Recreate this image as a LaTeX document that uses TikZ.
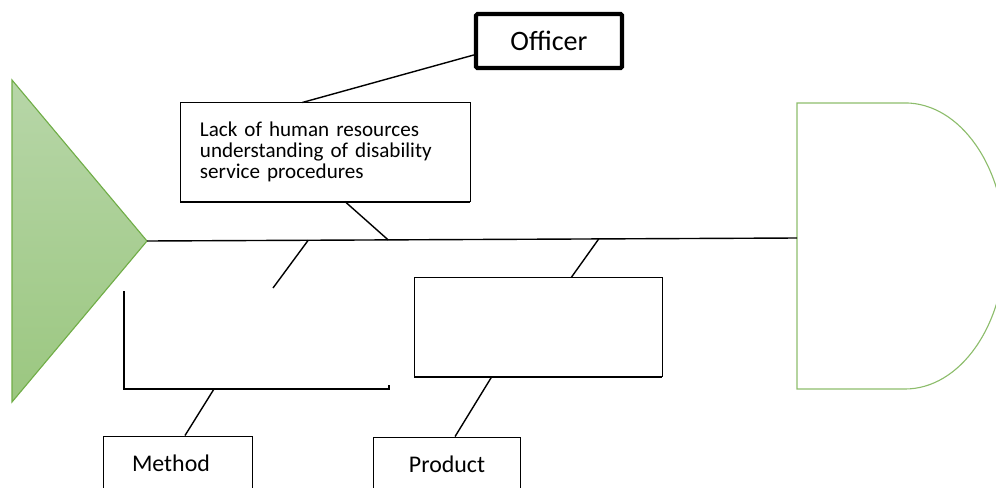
\documentclass[tikz,border=0pt]{standalone}
\usepackage{fontspec}
\setmainfont{Carlito}
\usetikzlibrary{calc,shadows}

\definecolor{fishgreen}{RGB}{112,173,71}
\definecolor{headtop}{RGB}{183,214,168}
\definecolor{headbottom}{RGB}{155,199,128}

\begin{document}
\begin{tikzpicture}[x=0.025cm, y=-0.025cm,
    causebox/.style={draw, fill=white, line width=0.7pt,
        copy shadow={shadow xshift=-0.6pt, shadow yshift=-1.3pt}},
    bone/.style={line width=1pt}]
    \useasboundingbox (0, 0) rectangle (996, 488);
    \clip (0, 0) rectangle (996, 488);

    \shade[top color=headtop, bottom color=headbottom, draw=fishgreen, line width=0.8pt]
        (12, 80) -- (147, 241) -- (12, 402) -- cycle;
    \coordinate (tip) at (147, 241);
    \draw[fishgreen!80, line width=0.8pt] (905, 103) -- (797, 103) -- (797, 389) -- (905, 389)
        arc[start angle=-90, end angle=90, x radius=2.5cm, y radius=3.575cm];
    \coordinate (tail) at (797, 238);

    \node[draw, line width=2.9pt, rounded corners=1pt, minimum width=3.65cm, minimum height=1.35cm,
        font=\fontsize{20}{24}\selectfont] (officer) at (549, 41) {Officer};
    \node[causebox, minimum width=7.225cm, minimum height=2.45cm, text width=6.275cm, inner xsep=0.475cm,
        align=left, font=\fontsize{15}{15}\selectfont] (staff) at (325.5, 152)
        {Lack of human resources\\understanding of disability\\service procedures};
    \node[causebox, minimum width=6.175cm, minimum height=2.45cm] (productcause) at (538.5, 327) {};
    \node[causebox, minimum width=3.7cm, minimum height=1.35cm,
        font=\fontsize{17}{17}\selectfont] (method) at (178, 463) {Method\hspace*{10pt}};
    \node[causebox, minimum width=3.65cm, minimum height=1.35cm,
        font=\fontsize{17}{17}\selectfont] (product) at (447, 464) {Product};

    \draw[bone] (124, 291) -- (124, 389) -- (389, 389) -- (389, 385);
    \coordinate (methodcause) at (214, 389);
    \coordinate (stub) at (273, 288);

    \draw[bone] (tip) -- (tail);
    \coordinate (s1) at ($(tip)!0.248!(tail)$);
    \coordinate (s2) at ($(tip)!0.371!(tail)$);
    \coordinate (s3) at ($(tip)!0.695!(tail)$);

    \draw[bone] ($(officer.south west)!0.26!(officer.north west)$) -- ($(staff.north west)!0.42!(staff.north east)$);
    \draw[bone] ($(staff.south west)!0.567!(staff.south east)$) -- (s2);
    \draw[bone] (s1) -- (stub);
    \draw[bone] ($(productcause.north west)!0.632!(productcause.north east)$) -- (s3);
    \draw[bone] ($(productcause.south west)!0.312!(productcause.south east)$) -- ($(product.north west)!0.555!(product.north east)$);
    \draw[bone] (methodcause) -- ($(method.north west)!0.547!(method.north east)$);
\end{tikzpicture}
\end{document}
